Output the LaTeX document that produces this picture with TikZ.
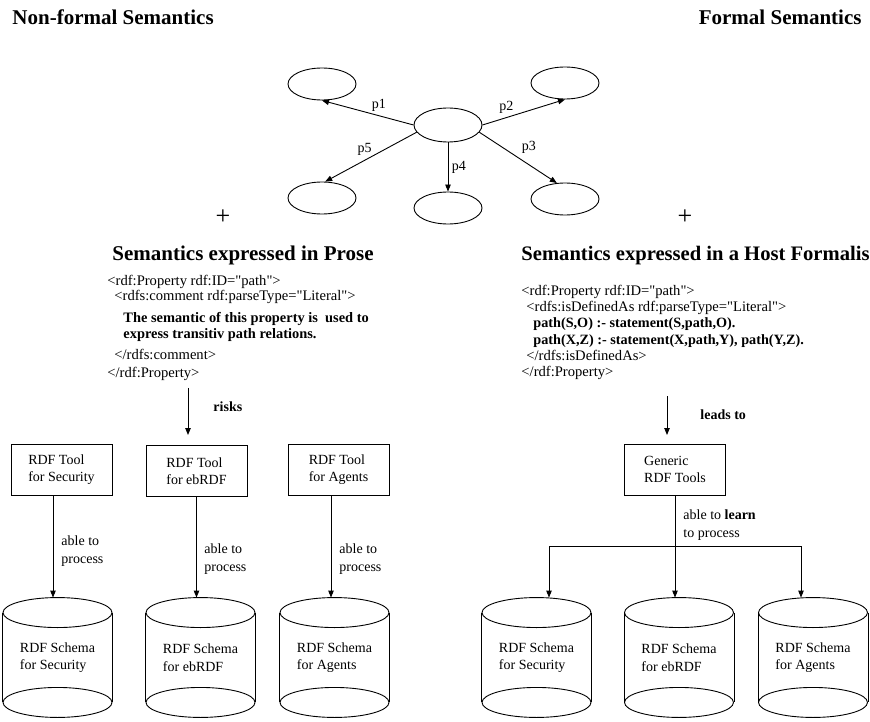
\documentclass[tikz,border=0pt]{standalone}
\usepackage{fontspec}
\setmainfont{Liberation Serif}
\usetikzlibrary{shapes.geometric,arrows.meta}
\newcommand\qmark{\XeTeXglyph\XeTeXcharglyph"22\relax}
\tikzset{
    ell/.style={draw, ellipse, minimum width=68pt, minimum height=32pt, inner sep=0pt},
    tool/.style={draw, rectangle, minimum width=101pt, minimum height=51pt, align=left, inner sep=0pt},
    schema/.style={minimum width=109pt, minimum height=119pt, align=left, inner sep=0pt},
    head/.style={font=\fontsize{21}{24}\selectfont\bfseries, inner sep=0pt},
    code/.style={align=left, inner sep=0pt, anchor=north west},
    lbl/.style={align=left, inner sep=0pt, anchor=west},
    plus/.style={font=\fontsize{26}{28}\selectfont, inner sep=0pt}
}
\begin{document}
\begin{tikzpicture}[x=1pt, y=-1pt, line width=0.9pt, >={Triangle[length=7pt,width=5.5pt]},
        font=\fontsize{14}{17.5}\selectfont]
        \useasboundingbox (0,0) rectangle (870,722);
        \node [head, anchor=base west] (nonformal) at (12,25) {Non-formal Semantics};
        \node [head, anchor=base east] (formal) at (862,25) {Formal Semantics};

        \node [ell, minimum height=34pt] (c) at (448,125) {};
        \node [ell] (tl) at (322,84) {};
        \node [ell] (tr) at (565,83) {};
        \node [ell] (bl) at (322,198) {};
        \node [ell] (bm) at (448,208) {};
        \node [ell] (br) at (565,199) {};
        \draw [->] (c.west) -- (tl.south) node [pos=0.38, above] (p1) {p1};
        \draw [->] (c.east) -- (tr.south) node [pos=0.29, above] (p2) {p2};
        \draw [->] (c.-13) -- (br.117) node [pos=0.5, above right] (p3) {p3};
        \draw [->] (c.south) -- (bm.north) node [pos=0.5, right] (p4) {p4};
        \draw [->] (c.193) -- (bl.79) node [pos=0.45, above left, yshift=-5pt] (p5) {p5};

        \node [plus] (plusl) at (223,217) {+};
        \node [plus] (plusr) at (685,217) {+};

        \node [head, anchor=base west] (prosehead) at (112,261) {Semantics expressed in Prose};
        \node [head, anchor=base west, font=\fontsize{20.6}{24}\selectfont\bfseries] (hosthead) at (521,260) {Semantics expressed in a Host Formalis};

        \node [code, font=\fontsize{14.6}{15.5}\selectfont] (prose) at (107,274.5) {<rdf:Property rdf:ID=\qmark path\qmark>\\
            \hspace*{7pt}<rdfs:comment rdf:parseType=\qmark Literal\qmark>\\[6.5pt]
            \hspace*{16pt}{\fontsize{14.4}{15.5}\selectfont\bfseries The semantic of this property is~ used to}\\
            \hspace*{16pt}{\fontsize{14.4}{15.5}\selectfont\bfseries express transitiv path relations.}\\[5.5pt]
            \hspace*{7pt}</rdfs:comment>\\[2.5pt]
            </rdf:Property>};
        \node [code, font=\fontsize{14.6}{16.3}\selectfont] (host) at (521,284.5) {<rdf:Property rdf:ID=\qmark path\qmark>\\
            \hspace*{5pt}<rdfs:isDefinedAs rdf:parseType=\qmark Literal\qmark>\\
            \hspace*{12pt}{\fontsize{14.2}{16.3}\selectfont\bfseries path(S,O) :- statement(S,path,O).}\\
            \hspace*{12pt}{\fontsize{14.2}{16.3}\selectfont\bfseries path(X,Z) :- statement(X,path,Y), path(Y,Z).}\\
            \hspace*{5pt}</rdfs:isDefinedAs>\\
            </rdf:Property>};

        \node [tool] (t1) at (61.5,469.5) {RDF Tool\\for Security};
        \node [tool] (t2) at (196.5,471) {RDF Tool\\for ebRDF};
        \node [tool] (t3) at (338.5,469.5) {RDF Tool\\for Agents};
        \node [tool] (gen) at (675,469.5) {Generic\\RDF Tools};

        \coordinate (risksend) at (188,435);
        \draw [->, shorten <=7pt] (prose.south -| risksend) -- (risksend);
        \node [lbl, font=\fontsize{14}{17.5}\selectfont\bfseries] (risks) at (213,407) {risks};
        \coordinate (leadsend) at (667,435);
        \draw [->, shorten <=16pt] (host.south -| leadsend) -- (leadsend);
        \node [lbl, font=\fontsize{14}{17.5}\selectfont\bfseries] (leads) at (700,415) {leads to};

        \node [schema] (ls1) at (57.5,657.5) {RDF Schema\\for Security};
        \node [schema] (ls2) at (200.5,657.5) {RDF Schema\\for ebRDF};
        \node [schema] (ls3) at (334.5,657.5) {RDF Schema\\for Agents};
        \node [schema] (rs1) at (536.5,657.5) {RDF Schema\\for Security};
        \node [schema] (rs2) at (679,657.5) {RDF Schema\\for ebRDF};
        \node [schema] (rs3) at (813,657.5) {RDF Schema\\for Agents};
        \foreach \s in {ls1,ls2,ls3,rs1,rs2,rs3} {
            \draw ([yshift=-15pt]\s.north) ellipse [x radius=54.5pt, y radius=15pt];
            \draw ([yshift=15pt]\s.south) ellipse [x radius=54.5pt, y radius=15pt];
            \draw ([yshift=-15pt]\s.north west) -- ([yshift=15pt]\s.south west);
            \draw ([yshift=-15pt]\s.north east) -- ([yshift=15pt]\s.south east);
        }

        \draw [->] ([xshift=-8.5pt]t1.south) -- ([xshift=-8.5pt]t1.south |- ls1.north);
        \draw [->] (t2.south) -- (t2.south |- ls2.north);
        \draw [->] ([xshift=-7.5pt]t3.south) -- ([xshift=-7.5pt]t3.south |- ls3.north);
        \node [lbl] (able1) at (61,551) {able to\\process};
        \node [lbl] (able2) at (204,559) {able to\\process};
        \node [lbl] (able3) at (339,559) {able to\\process};

        \coordinate (fork) at (675,546);
        \coordinate (f1) at (549,546);
        \coordinate (f3) at (801,546);
        \draw (gen.south) -- (fork);
        \draw (f1) -- (f3);
        \draw [->] (f1) -- (f1 |- rs1.north);
        \draw [->] (fork) -- (fork |- rs2.north);
        \draw [->] (f3) -- (f3 |- rs3.north);
        \node [lbl] (learn) at (683,525) {able to \textbf{learn}\\to process};
    \end{tikzpicture}
\end{document}
